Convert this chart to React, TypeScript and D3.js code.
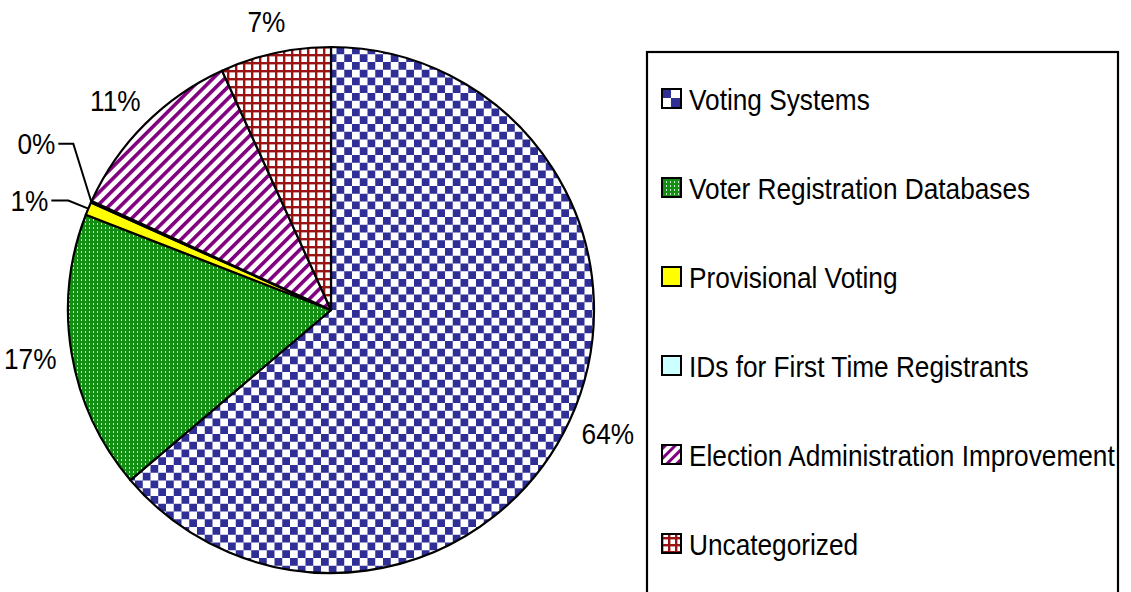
import React from "react";
import * as d3 from "d3";

const categories = [
  "Voting Systems",
  "Voter Registration Databases",
  "Provisional Voting",
  "IDs for First Time Registrants",
  "Election Administration Improvement",
  "Uncategorized",
];
const values = [63.8, 17.1, 0.8, 0.1, 11.4, 6.8];
const fills = ["url(#pVoting)", "url(#pGreen)", "#ffff00", "#ccffff", "url(#pPurple)", "url(#pRed)"];
const swatchFills = ["url(#sVoting)", "url(#pGreen)", "#ffff00", "#ccffff", "url(#sPurple)", "url(#sRed)"];

const W = 1131;
const H = 592;
const cx = 331;
const cy = 310;
const R = 263;
const FONT = "'Liberation Sans', Arial, sans-serif";
const FS = 29;
const SX = 0.905;

function T(props: { x: number; y: number; anchor?: string; children: React.ReactNode }) {
  return (
    <text
      transform={`translate(${props.x},${props.y}) scale(${SX},1)`}
      textAnchor={props.anchor || "start"}
      fontFamily={FONT}
      fontSize={FS}
      fill="#000"
    >
      {props.children}
    </text>
  );
}

export default function App() {
  const pie = d3.pie<number>().sort(null).value((d) => d)(values);
  const arc = d3.arc<d3.PieArcDatum<number>>().innerRadius(0).outerRadius(R);
  const labelArc = d3.arc<d3.PieArcDatum<number>>().innerRadius(305).outerRadius(305);
  const edgeArc = d3.arc<d3.PieArcDatum<number>>().innerRadius(R).outerRadius(R);
  const fmt = (v: number) => `${Math.round(v)}%`;
  const yRatio = 295 / 305;

  // leader-line nudges for small slices (label layout only)
  const nudges: Record<number, { ex: number; ey: number; len: number }> = {
    2: { ex: -20, ey: -8, len: 17 },
    3: { ex: -18, ey: -58, len: 15 },
  };

  const legendX = 647;
  const legendY = 52;
  const rowH = 89;

  return (
    <svg width={W} height={H} style={{ position: "absolute", left: 0, top: 0, background: "#fff" }}>
      <defs>
        <pattern id="pVoting" patternUnits="userSpaceOnUse" width={15.5} height={15.5} x={cx} y={cy}>
          <rect width={15.5} height={15.5} fill="#ffffff" />
          <rect width={7.75} height={7.75} fill="#2f2f96" />
          <rect x={7.75} y={7.75} width={7.75} height={7.75} fill="#2f2f96" />
        </pattern>
        <pattern id="sVoting" patternUnits="userSpaceOnUse" width={20} height={20} x={661} y={88}>
          <rect width={20} height={20} fill="#ffffff" />
          <rect width={10} height={10} fill="#2f2f96" />
          <rect x={10} y={10} width={10} height={10} fill="#2f2f96" />
        </pattern>
        <pattern id="pGreen" patternUnits="userSpaceOnUse" width={4} height={4}>
          <rect width={4} height={4} fill="#128f12" />
          <rect x={2} y={1} width={1} height={2} fill="#ffffff" opacity={0.8} />
        </pattern>
        <pattern id="pPurple" patternUnits="userSpaceOnUse" width={8.3} height={8.3} patternTransform="rotate(45)">
          <rect width={8.3} height={8.3} fill="#ffffff" />
          <rect width={3.6} height={8.3} fill="#800080" />
        </pattern>
        <pattern id="sPurple" patternUnits="userSpaceOnUse" width={7} height={7} patternTransform="rotate(45)">
          <rect width={7} height={7} fill="#ffffff" />
          <rect width={3} height={7} fill="#800080" />
        </pattern>
        <pattern id="pRed" patternUnits="userSpaceOnUse" width={8} height={8}>
          <rect width={8} height={8} fill="#ffffff" />
          <rect width={2.4} height={8} fill="#9a1414" />
          <rect width={8} height={2.4} fill="#9a1414" />
        </pattern>
        <pattern id="sRed" patternUnits="userSpaceOnUse" width={7} height={7} x={661} y={530}>
          <rect width={7} height={7} fill="#ffffff" />
          <rect width={2.4} height={7} fill="#9a1414" />
          <rect width={7} height={2.4} fill="#9a1414" />
        </pattern>
      </defs>

      <g transform={`translate(${cx},${cy})`}>
        {pie.map((d, i) => (
          <path key={i} d={arc(d) || ""} fill={fills[i]} stroke="#000" strokeWidth={2.2} strokeLinejoin="round" />
        ))}
        {pie.map((d, i) => {
          const n = nudges[i];
          if (n) {
            const [x0, y0] = edgeArc.centroid(d);
            const ex = x0 + n.ex;
            const ey = y0 + n.ey;
            return (
              <g key={"l" + i}>
                <polyline
                  points={`${x0},${y0} ${ex},${ey} ${ex - n.len},${ey}`}
                  fill="none"
                  stroke="#000"
                  strokeWidth={2}
                />
                <T x={ex - n.len - 3} y={ey + 10} anchor="end">
                  {fmt(values[i])}
                </T>
              </g>
            );
          }
          const [lx, ly] = labelArc.centroid(d);
          return (
            <T key={"l" + i} x={lx} y={ly * yRatio + 10} anchor="middle">
              {fmt(values[i])}
            </T>
          );
        })}
      </g>

      <rect x={legendX} y={legendY} width={471} height={580} fill="none" stroke="#000" strokeWidth={2.2} />
      {categories.map((c, i) => {
        const y = legendY + 48 + i * rowH;
        return (
          <g key={c}>
            <rect x={662} y={y - 11} width={19} height={19} fill={swatchFills[i]} stroke="#000" strokeWidth={2} />
            <T x={689} y={y + 10}>
              {c}
            </T>
          </g>
        );
      })}
    </svg>
  );
}
